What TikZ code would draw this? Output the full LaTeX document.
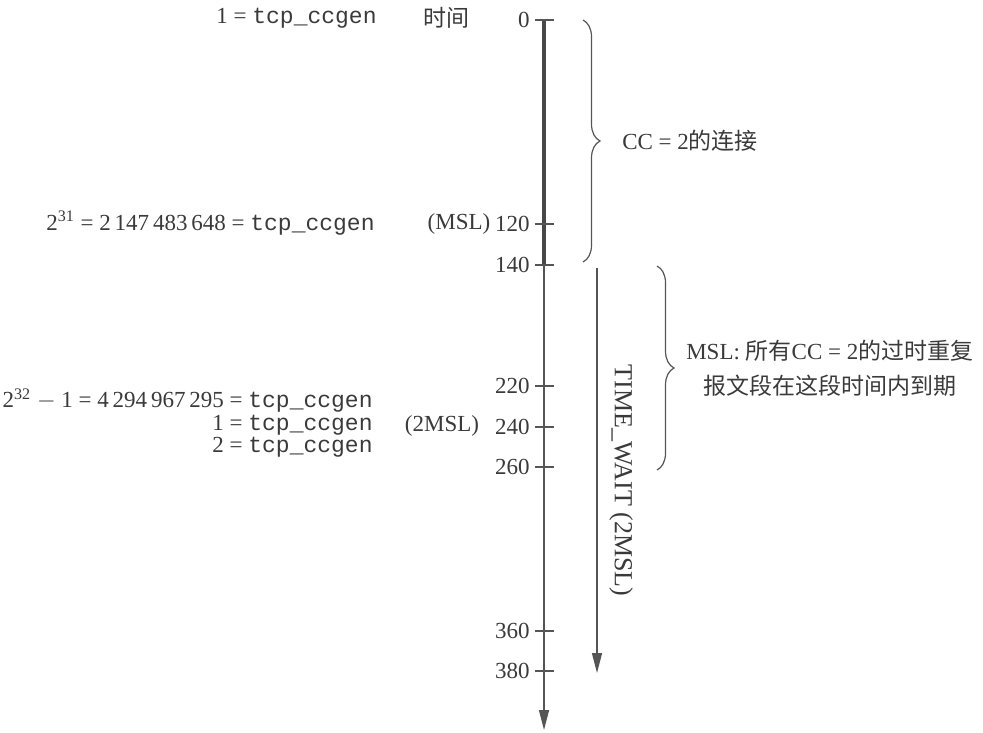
\documentclass[tikz,border=0pt]{standalone}
\usepackage{fontspec}
\setmainfont{Liberation Serif}
\setmonofont{Liberation Mono}
\newfontfamily\cjk{Noto Sans CJK SC}
\usepackage{tikz}
\usetikzlibrary{arrows.meta, decorations.pathreplacing, positioning}

\definecolor{linegray}{HTML}{555555}
\definecolor{textgray}{HTML}{3A3A3A}

\begin{document}
\begin{tikzpicture}[
    x=0.5pt, y=-0.5pt,
    every node/.style={text=textgray, font=\fontsize{11.5}{14}\selectfont},
    axisline/.style={draw=linegray, line width=0.7pt},
    lifeline/.style={draw=linegray!85!black, line width=2.4pt},
    tickmark/.style={draw=linegray, line width=0.7pt},
    ticklabel/.style={anchor=east, inner sep=1pt},
    genlabel/.style={anchor=east, inner sep=0pt, align=right},
    bracket/.style={draw=linegray, line width=0.6pt, decorate, decoration={brace, amplitude=8.5pt}},
    tip/.style={-{Triangle[length=10pt, width=5pt]}}
]
    \useasboundingbox (0,0) rectangle (983,732);

    % time axis
    \coordinate (t0) at (544,20);
    \coordinate (tend) at (544,730);
    \coordinate (t140) at (544,265);
    \draw[axisline, tip, linegray] (t0) -- (tend);
    \draw[lifeline] (t0) -- (t140);

    % ticks and their values
    \foreach \val/\ypos in {0/20, 120/224, 140/265, 220/386, 240/427, 260/467, 360/631, 380/671} {
        \coordinate (k\val) at (544,\ypos);
        \draw[tickmark] ([xshift=-4.5pt]k\val) -- ([xshift=5pt]k\val);
        \node[ticklabel] (lab\val) at ([xshift=-6pt]k\val) {\val};
    }

    % column heads and marks
    \node (timehead) at (446,18) {\cjk 时间};
    \node (msl) at (459,224) {(MSL)};
    \node (twomsl) at (442,426) {(2MSL)};

    % tcp_ccgen values
    \node[genlabel] (gen1) at (377,18) {1 = \texttt{tcp\_ccgen}};
    \node[genlabel] (gen31) at (375,223) {2\textsuperscript{31} = 2\,147\,483\,648 = \texttt{tcp\_ccgen}};
    \node[genlabel] (gen32) at (373,423)
        {2\textsuperscript{32} $-$ 1 = 4\,294\,967\,295 = \texttt{tcp\_ccgen}\\[-2.8pt]
        1 = \texttt{tcp\_ccgen}\\[-2.8pt]
        2 = \texttt{tcp\_ccgen}};

    % connection with CC = 2
    \coordinate (bra) at (583,20);
    \coordinate (brb) at (583,262);
    \draw[bracket] (bra) -- (brb) node[midway, right=16pt] (cclab) {CC = 2{\cjk 的连接}};

    % TIME_WAIT period
    \coordinate (twa) at (597,268);
    \coordinate (twb) at (597,673);
    \draw[axisline, tip, linegray] (twa) -- (twb)
        node[pos=0.525, sloped, above=2.5pt, font=\fontsize{13}{15}\selectfont] (twlab) {TIME\_WAIT (2MSL)};

    % old duplicates expire
    \coordinate (bma) at (657,266);
    \coordinate (bmb) at (657,470);
    \draw[bracket] (bma) -- (bmb) node[midway, right=11pt, align=center, font=\fontsize{11.5}{17.5}\selectfont] (msllab)
        {MSL: {\cjk 所有}CC = 2{\cjk 的过时重复}\\{\cjk 报文段在这段时间内到期}};
\end{tikzpicture}
\end{document}
